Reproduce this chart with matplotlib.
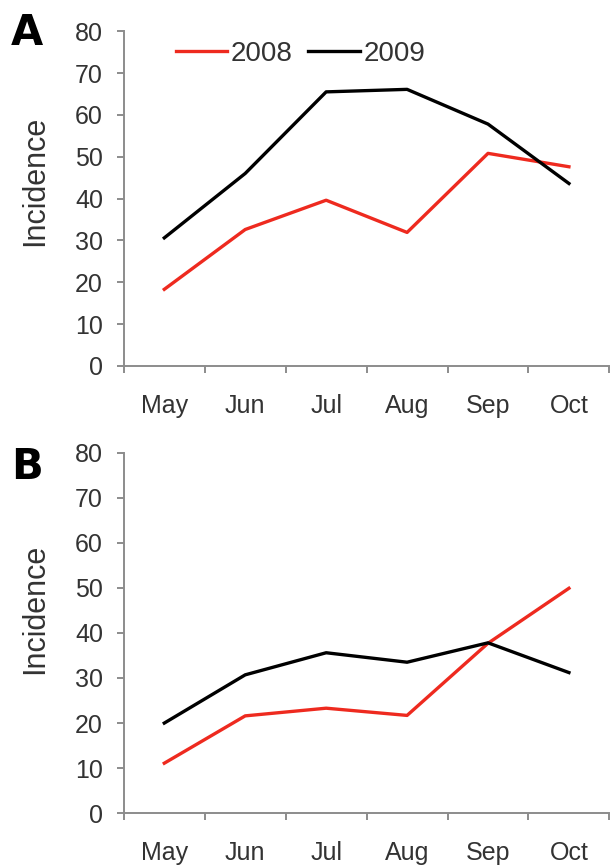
import matplotlib.pyplot as plt
import numpy as np

plt.rcParams['font.family'] = ['Liberation Sans', 'DejaVu Sans']

months = ['May', 'Jun', 'Jul', 'Aug', 'Sep', 'Oct']
a_2008 = [18.3, 32.6, 39.6, 31.9, 50.8, 47.6]
a_2009 = [30.6, 46.0, 65.5, 66.1, 57.8, 43.6]
b_2008 = [11.1, 21.6, 23.3, 21.7, 37.7, 49.9]
b_2009 = [20.0, 30.7, 35.6, 33.5, 37.8, 31.2]

red = '#ee2a1f'
grey = '#8c8c8c'
text_col = '#333333'

fig = plt.figure(figsize=(6.10, 8.67), dpi=100)
ax_a = fig.add_axes([0.203, 0.578, 0.796, 0.386])
ax_b = fig.add_axes([0.203, 0.062, 0.796, 0.416])


def style(ax, label_y):
    x = np.arange(len(months))
    ax.set_xlim(-0.5, len(months) - 0.5)
    ax.set_ylim(0, 80)
    ax.set_yticks(np.arange(0, 81, 10))
    ax.set_xticks(np.arange(len(months) + 1) - 0.5)
    ax.set_xticklabels([])
    ax.set_xticks(x, minor=True)
    ax.set_xticklabels(months, minor=True)
    for s in ['top', 'right']:
        ax.spines[s].set_visible(False)
    for s in ['left', 'bottom']:
        ax.spines[s].set_color(grey)
        ax.spines[s].set_linewidth(1.4)
    ax.tick_params(axis='both', which='major', direction='out', length=5,
                   width=1.4, color=grey, labelsize=18, labelcolor=text_col)
    ax.tick_params(axis='y', pad=10)
    ax.tick_params(axis='x', which='minor', length=0, pad=20,
                   labelsize=18, labelcolor=text_col)
    ax.set_ylabel('Incidence', fontsize=22, color=text_col)
    ax.yaxis.set_label_coords(-0.151, label_y)


x = np.arange(len(months))
ax_a.plot(x, a_2008, color=red, lw=2.4, label='2008')
ax_a.plot(x, a_2009, color='black', lw=2.4, label='2009')
style(ax_a, 0.552)
ax_a.legend(loc='upper left', bbox_to_anchor=(0.055, 1.045), ncol=2, frameon=False,
            fontsize=20, handlelength=1.85, handletextpad=0.15, columnspacing=0.55,
            labelcolor=text_col)

ax_b.plot(x, b_2008, color=red, lw=2.4)
ax_b.plot(x, b_2009, color='black', lw=2.4)
style(ax_b, 0.566)

fig.text(0.018, 0.948, 'A', fontsize=30, fontweight='bold', family='DejaVu Sans',
         color='black')
fig.text(0.018, 0.448, 'B', fontsize=30, fontweight='bold', family='DejaVu Sans',
         color='black')

fig.savefig('out.png', dpi=100)
